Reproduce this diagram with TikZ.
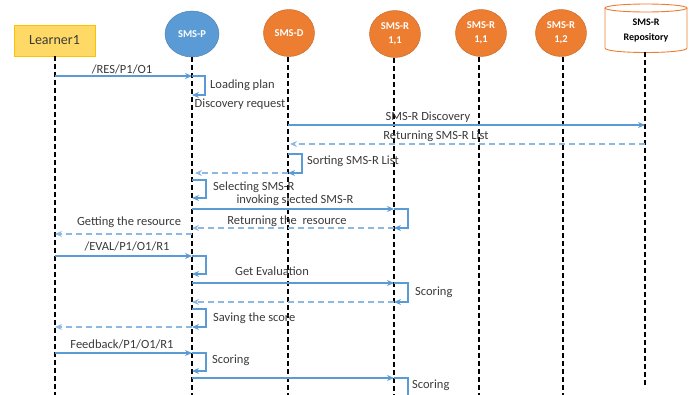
\documentclass[tikz,border=0pt]{standalone}
\usepackage{fontspec}
\setmainfont{Carlito}
\usetikzlibrary{arrows.meta,shapes.geometric}
\definecolor{mblue}{HTML}{5B9BD5}
\definecolor{rblue}{HTML}{8DB8E2}
\definecolor{orng}{HTML}{ED7D31}
\definecolor{ylw}{HTML}{FFD966}
\definecolor{ybord}{HTML}{FFC000}
\definecolor{txt}{HTML}{3A3A3A}
\begin{document}
\begin{tikzpicture}[x=1pt,y=-1pt,
  msg/.style={mblue, line width=1.1pt, -{Stealth[length=7pt,width=6pt]}},
  ret/.style={rblue, line width=1.1pt, dash pattern=on 6pt off 4pt, -{Stealth[length=7pt,width=6pt]}},
  loopline/.style={mblue, line width=1.1pt},
  life/.style={black, line width=1.1pt, dash pattern=on 5pt off 3pt},
  lbl/.style={text=txt, font=\fontsize{12.5}{13}\selectfont, inner sep=0pt},
  headbox/.style={draw=ybord, fill=ylw, line width=0.8pt, minimum width=81pt, minimum height=31pt, inner sep=0pt, text=txt, font=\fontsize{14}{15}\selectfont},
  pnode/.style={ellipse, fill=mblue, draw=mblue!80!black, line width=0.4pt, minimum width=54pt, minimum height=46pt, inner sep=0pt, text=white, font=\bfseries\fontsize{10.5}{12}\selectfont},
  onode/.style={ellipse, fill=orng, draw=orng!80!black, line width=0.4pt, minimum width=51pt, minimum height=47pt, inner sep=0pt, text=white, align=center, font=\bfseries\fontsize{10.5}{14}\selectfont},
  repnode/.style={minimum width=82pt, minimum height=44pt, inner sep=0pt, align=center, font=\bfseries\fontsize{10}{15}\selectfont}
]
\useasboundingbox (0,0) rectangle (690,394);
\clip (0,0) rectangle (690,394);

% heads
\node[headbox] (learner) at (54.5,40.5) {Learner1};
\node[pnode] (smsp) at (192,34) {SMS-P};
\node[onode] (smsd) at (289,33) {SMS-D};
\node[onode] (r1) at (395,34) {SMS-R\\1,1};
\node[onode] (r2) at (481,33) {SMS-R\\1,1};
\node[onode] (r3) at (561,33) {SMS-R\\1,2};
\draw[orng, line width=0.9pt, fill=white] (605,8) -- (605,48) .. controls (605,54) and (687,54) .. (687,48) -- (687,8);
\draw[orng, line width=0.9pt, fill=white] (646,8) ellipse [x radius=41, y radius=4];
\node[repnode] (repo) at (646,31) {SMS-R\\Repository};

% lifeline ends
\coordinate (lE) at (55,396);
\coordinate (pE) at (192,396);
\coordinate (dE) at (288,396);
\coordinate (r1E) at (394,396);
\coordinate (r2E) at (479,396);
\coordinate (r3E) at (563,396);
\coordinate (repE) at (645,387);
\draw[life] (55,56) -- (lE);
\draw[life] (192,57) -- (pE);
\draw[life] (288,57) -- (dE);
\draw[life] (394,58) -- (r1E);
\draw[life] (479,57) -- (r2E);
\draw[life] (563,57) -- (r3E);
\draw[life] (645,52) -- (repE);

% message anchor points
\coordinate (a1) at (55,76);   \coordinate (b1) at (192,76);
\coordinate (c1) at (192,95);
\coordinate (a2) at (288,125); \coordinate (b2) at (645,125);
\coordinate (a3) at (645,144); \coordinate (b3) at (290,144);
\coordinate (a4) at (288,154); \coordinate (b4) at (288,173);
\coordinate (c4) at (195,173);
\coordinate (a5) at (192,180); \coordinate (b5) at (192,198);
\coordinate (a6) at (192,209); \coordinate (b6) at (394,209);
\coordinate (c6) at (394,228); \coordinate (d6) at (192,228);
\coordinate (a7) at (192,234); \coordinate (b7) at (55,234);
\coordinate (a8) at (55,256);  \coordinate (b8) at (192,256);
\coordinate (c8) at (192,274);
\coordinate (a9) at (192,283); \coordinate (b9) at (394,283);
\coordinate (c9) at (394,302); \coordinate (d9) at (192,302);
\coordinate (a10) at (192,309); \coordinate (b10) at (192,327);
\coordinate (c10) at (55,327);
\coordinate (a11) at (55,353); \coordinate (b11) at (192,353);
\coordinate (c11) at (192,371);
\coordinate (a12) at (192,378); \coordinate (b12) at (394,378);
\coordinate (c12) at (408,398);

% messages
\draw[msg] (a1) -- (b1);
\draw[msg] (b1) -- ++(13,0) |- (c1);
\draw[msg] (a2) -- (b2);
\draw[ret] (a3) -- (b3);
\draw[msg] (a4) -- ++(14,0) |- (b4);
\draw[ret] (b4) -- (c4);
\draw[msg] (a5) -- ++(14,0) |- (b5);
\draw[msg] (a6) -- (b6);
\draw[msg] (b6) -- ++(14,0) |- (c6);
\draw[ret] (c6) -- (d6);
\draw[ret] (a7) -- (b7);
\draw[msg] (a8) -- (b8);
\draw[msg] (b8) -- ++(14,0) |- (c8);
\draw[msg] (a9) -- (b9);
\draw[msg] (b9) -- ++(14,0) |- (c9);
\draw[ret] (c9) -- (d9);
\draw[msg] (a10) -- ++(14,0) |- (b10);
\draw[ret] (b10) -- (c10);
\draw[msg] (a11) -- (b11);
\draw[msg] (b11) -- ++(14,0) |- (c11);
\draw[msg] (a12) -- (b12);
\draw[loopline] (b12) -| (c12);

% labels
\node[lbl] (t1) at (122,69) {/RES/P1/O1};
\node[lbl, anchor=west] (t2) at (210,85) {Loading plan};
\node[lbl] (t3) at (240,104) {Discovery request};
\node[lbl] (t4) at (428,117) {SMS-R Discovery};
\node[lbl] (t5) at (436,136) {Returning SMS-R List};
\node[lbl, anchor=west] (t6) at (307,161) {Sorting SMS-R List};
\node[lbl, anchor=west] (t7) at (213,187) {Selecting SMS-R};
\node[lbl] (t8) at (295,200) {invoking slected SMS-R};
\node[lbl] (t9) at (287,221) {Returning the\ \ resource};
\node[lbl] (t10) at (129,222) {Getting the resource};
\node[lbl] (t11) at (127,246) {/EVAL/P1/O1/R1};
\node[lbl] (t12) at (272,271) {Get Evaluation};
\node[lbl, anchor=west] (t13) at (415,292) {Scoring};
\node[lbl, anchor=west] (t14) at (213,318) {Saving the score};
\node[lbl] (t15) at (122,344) {Feedback/P1/O1/R1};
\node[lbl, anchor=west] (t16) at (212,360) {Scoring};
\node[lbl, anchor=west] (t17) at (412,385) {Scoring};
\end{tikzpicture}
\end{document}
